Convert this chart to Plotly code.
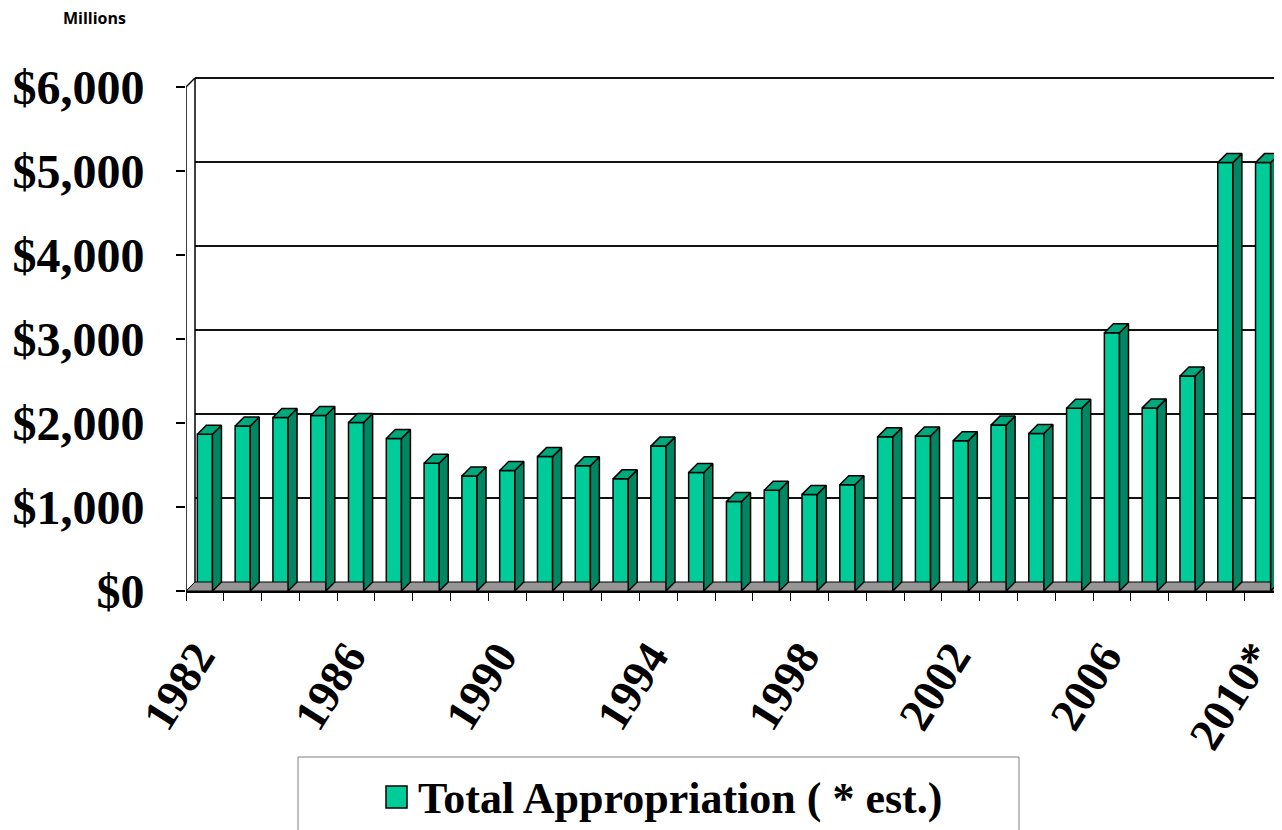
import plotly.graph_objects as go

years = ["1982", "1983", "1984", "1985", "1986", "1987", "1988", "1989", "1990", "1991",
         "1992", "1993", "1994", "1995", "1996", "1997", "1998", "1999", "2000", "2001",
         "2002", "2003", "2004", "2005", "2006", "2007", "2008", "2009", "2010*"]
appropriation = [1865, 1965, 2065, 2090, 2005, 1815, 1520, 1370, 1435, 1600,
                 1490, 1335, 1725, 1410, 1065, 1200, 1150, 1265, 1835, 1845,
                 1790, 1975, 1875, 2175, 3075, 2180, 2560, 5100, 5100]
tick_years = ["1982", "1986", "1990", "1994", "1998", "2002", "2006", "2010*"]
y_ticks = [0, 1000, 2000, 3000, 4000, 5000, 6000]
y_tick_text = ["$0", "$1,000", "$2,000", "$3,000", "$4,000", "$5,000", "$6,000"]
series_name = "Total Appropriation ( * est.)"

# the html body has a default 8px margin: the figure starts at page (8, 8)
OFF = 8
W, H = 1282 - OFF, 830 - OFF
ML, MR, MT = 186 - OFF, 0, 76 - OFF
MB = H - (591 - OFF)
PW, PH = W - ML - MR, H - MT - MB
N = len(years)
XMIN, XMAX = -0.5, N - 0.5
YMAX_FRONT = 6000
PX_PER_UNIT_Y = 504 / YMAX_FRONT
YMAX = PH / PX_PER_UNIT_Y
PX_PER_CAT = PW / (XMAX - XMIN)
DX = 9 / PX_PER_CAT
DY = 9 / PX_PER_UNIT_Y
BW = 0.4

FRONT = "#00CC99"
SIDE = "#008663"
TOP = "#00A87B"
FLOOR = "#969696"

xs = list(range(N))
fig = go.Figure()

# floor
fig.add_trace(go.Scatter(
    x=[XMIN, XMAX, XMAX + DX, XMIN + DX, XMIN], y=[0, 0, DY, DY, 0],
    fill="toself", fillcolor=FLOOR, mode="lines", line=dict(color="black", width=1),
    hoverinfo="skip", showlegend=False))

# front faces
fig.add_trace(go.Bar(
    x=xs, y=appropriation, width=BW, name=series_name,
    marker=dict(color=FRONT, line=dict(color="black", width=1.5)), showlegend=False))

# side faces and top faces
sx, sy, tx, ty = [], [], [], []
for i, v in zip(xs, appropriation):
    r = i + BW / 2
    l = i - BW / 2
    sx += [r, r + DX, r + DX, r, r, None]
    sy += [0, DY, v + DY, v, 0, None]
    tx += [l, r, r + DX, l + DX, l, None]
    ty += [v, v, v + DY, v + DY, v, None]
fig.add_trace(go.Scatter(x=sx, y=sy, fill="toself", fillcolor=SIDE, mode="lines",
                         line=dict(color="black", width=1.5), hoverinfo="skip",
                         showlegend=False, connectgaps=False))
fig.add_trace(go.Scatter(x=tx, y=ty, fill="toself", fillcolor=TOP, mode="lines",
                         line=dict(color="black", width=1.5), hoverinfo="skip",
                         showlegend=False, connectgaps=False))

shapes = []
# back wall gridlines
for v in y_ticks[1:]:
    shapes.append(dict(type="line", xref="x", yref="y", x0=XMIN + DX, x1=XMAX + DX + 1,
                       y0=v + DY, y1=v + DY, line=dict(color="#111111", width=2), layer="below"))
# left wall
shapes.append(dict(type="line", xref="x", yref="y", x0=XMIN, x1=XMIN, y0=0, y1=YMAX_FRONT,
                   line=dict(color="black", width=1.5)))
shapes.append(dict(type="line", xref="x", yref="y", x0=XMIN + DX, x1=XMIN + DX, y0=DY,
                   y1=YMAX_FRONT + DY, line=dict(color="black", width=1.5)))
shapes.append(dict(type="line", xref="x", yref="y", x0=XMIN, x1=XMIN + DX, y0=YMAX_FRONT,
                   y1=YMAX_FRONT + DY, line=dict(color="black", width=1.5)))


def px(p):
    return (p - OFF - ML) / PW


def py(p):
    return (H - MB - (p - OFF)) / PH


# legend box
shapes.append(dict(type="rect", xref="paper", yref="paper", x0=px(298), x1=px(1019),
                   y0=py(845), y1=py(757), line=dict(color="#7f7f7f", width=1)))
shapes.append(dict(type="rect", xref="paper", yref="paper", x0=px(386), x1=px(407),
                   y0=py(808), y1=py(786), fillcolor=FRONT, line=dict(color="black", width=1.5)))

annotations = [
    dict(text="<b>" + series_name + "</b>", xref="paper", yref="paper", x=px(416), y=py(798),
         xanchor="left", yanchor="middle", showarrow=False,
         font=dict(family="Liberation Serif", size=44, color="black")),
    dict(text="<b>Millions</b>", xref="paper", yref="paper", x=px(94), y=py(18),
         xanchor="center", yanchor="middle", showarrow=False,
         font=dict(family="Open Sans", size=16, color="black")),
]

tick_pos = [years.index(t) for t in tick_years]

fig.update_layout(
    width=W, height=H, margin=dict(l=ML, r=MR, t=MT, b=MB, pad=0),
    paper_bgcolor="white", plot_bgcolor="white", showlegend=False,
    shapes=shapes, annotations=annotations,
    xaxis=dict(range=[XMIN, XMAX], tickvals=tick_pos, ticktext=tick_years, tickangle=-58,
               ticks="", showgrid=False, zeroline=False, showline=True, automargin=False,
               linecolor="black", linewidth=2, ticklabelstandoff=18, ticklabelshift=-8,
               ticklabeloverflow="allow",
               tickfont=dict(family="Liberation Serif", size=46, color="black", weight="bold"),
               minor=dict(tick0=-0.5, dtick=1, ticks="outside", ticklen=8, tickcolor="black",
                          tickwidth=1, showgrid=False)),
    yaxis=dict(range=[0, YMAX], tickvals=y_ticks, ticktext=y_tick_text, ticks="outside",
               ticklen=9, tickcolor="black", tickwidth=1.5, showgrid=False, zeroline=False,
               showline=False, ticklabelstandoff=22, automargin=False, ticklabeloverflow="allow",
               tickfont=dict(family="Liberation Serif", size=48, color="black", weight="bold")),
)

fig.write_html("out.html")
